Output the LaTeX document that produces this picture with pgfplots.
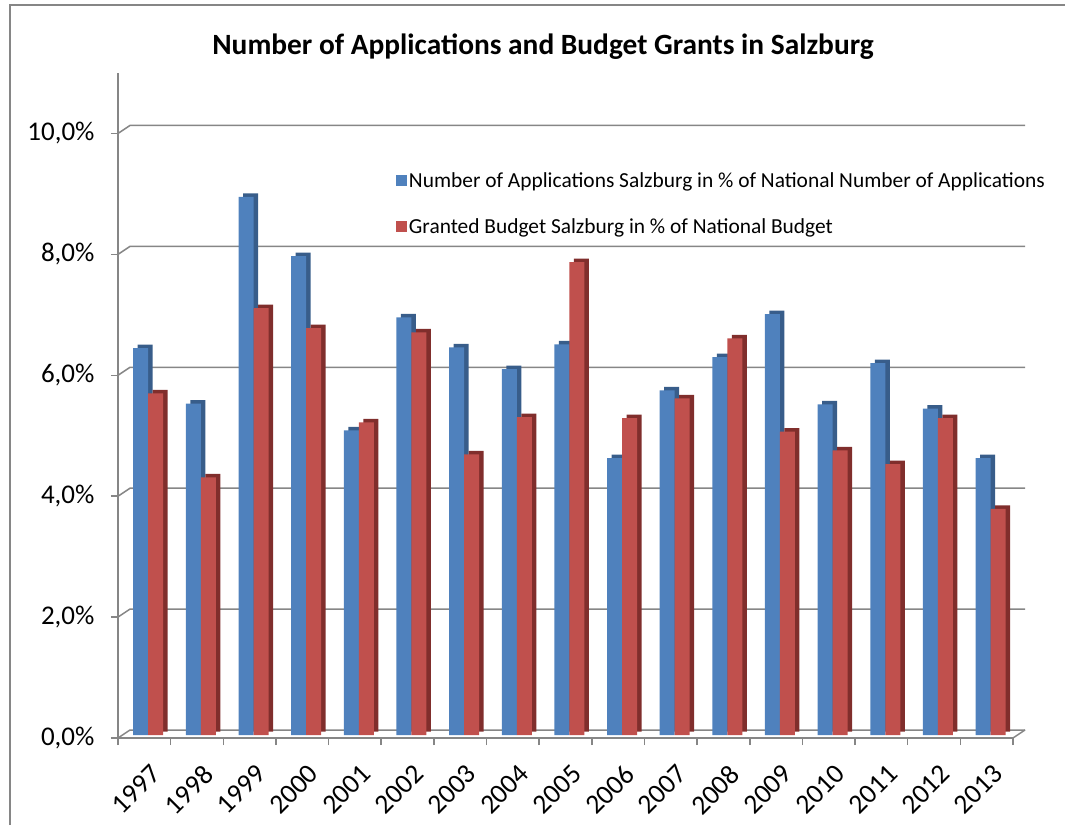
\documentclass[border=0pt]{standalone}
\usepackage{pgfplots}
\pgfplotsset{compat=1.18}
\usepackage{pgfplotstable}
\usepackage{fontspec}
\setmainfont{Carlito}
\definecolor{xlblue}{RGB}{79,129,189}
\definecolor{xlred}{RGB}{192,80,77}
\definecolor{xlbluedk}{RGB}{56,93,138}
\definecolor{xlreddk}{RGB}{128,46,44}
\definecolor{xlgray}{RGB}{134,134,134}

\pgfplotstableread{
x blue red
0  6.40 5.65
1  5.48 4.26
2  8.90 7.06
3  7.92 6.73
4  5.04 5.17
5  6.91 6.66
6  6.41 4.64
7  6.05 5.26
8  6.46 7.82
9  4.58 5.24
10 5.70 5.57
11 6.25 6.56
12 6.96 5.02
13 5.47 4.71
14 6.15 4.48
15 5.40 5.24
16 4.58 3.74
}\datatable

\begin{document}
\begin{tikzpicture}
\useasboundingbox (0pt,0pt) rectangle (1065pt,825pt);
\draw[xlgray, line width=1.5pt] (10pt,0pt) -- (10pt,820pt) -- (1070pt,820pt);
\node[font=\fontsize{29.4}{34}\selectfont\bfseries] at (543pt,778pt) {Number of Applications and Budget Grants in Salzburg};
\begin{axis}[
  at={(118pt,87pt)}, anchor=south west,
  scale only axis, width=895pt, height=665pt,
  clip=false,
  xmin=-0.5, xmax=16.5, ymin=0, ymax=11,
  axis x line*=bottom, axis y line*=left,
  axis line style={xlgray, line width=1.5pt, -},
  ybar, bar width=15pt,
  xtick={0,...,16},
  xticklabels={1997,1998,1999,2000,2001,2002,2003,2004,2005,2006,2007,2008,2009,2010,2011,2012,2013},
  major x tick style={draw=none},
  minor xtick={-0.5,0.5,...,16.5},
  tick align=outside,
  major tick length=7pt, minor tick length=7pt,
  every tick/.append style={xlgray, line width=1.5pt},
  ytick={0,2,4,6,8,10},
  yticklabels={{0,0\%},{2,0\%},{4,0\%},{6,0\%},{8,0\%},{10,0\%}},
  x tick label style={rotate=45, anchor=north east, font=\fontsize{27.5}{32}\selectfont, yshift=-13pt, xshift=-6pt},
  y tick label style={font=\fontsize{27}{32}\selectfont, xshift=-13pt},
  legend style={draw=none, fill=none, at={(0.307,0.857)}, anchor=north west,
    font=\fontsize{21.4}{25}\selectfont, row sep=26pt},
  legend cell align=left,
  legend image code/.code={\fill[#1, yshift=-3pt] (-4pt,-5.5pt) rectangle (7pt,5.5pt);},
]
\pgfplotsinvokeforeach{0,2,4,6,8,10}{
  \draw[xlgray, line width=1.5pt] (axis cs:-0.5,#1) -- ++(12pt,8pt) -- ([xshift=12pt,yshift=8pt]axis cs:16.5,#1);
}
\draw[xlgray, line width=1.5pt] (axis cs:16.5,0) -- ++(12pt,8pt);

\addplot[fill=xlbluedk, draw=none, bar shift=-3.6pt, xshift=4.5pt, yshift=6.5pt, forget plot] table[x=x,y=blue] {\datatable};
\addplot[fill=xlblue, draw=none, bar shift=-3.6pt, yshift=3pt] table[x=x,y=blue] {\datatable};
\addplot[fill=xlreddk, draw=none, bar shift=11.4pt, xshift=4.5pt, yshift=6.5pt, forget plot] table[x=x,y=red] {\datatable};
\addplot[fill=xlred, draw=none, bar shift=11.4pt, yshift=3pt] table[x=x,y=red] {\datatable};
\legend{Number of Applications Salzburg in \% of National Number of Applications, Granted Budget Salzburg in \% of National Budget}
\end{axis}
\end{tikzpicture}
\end{document}
